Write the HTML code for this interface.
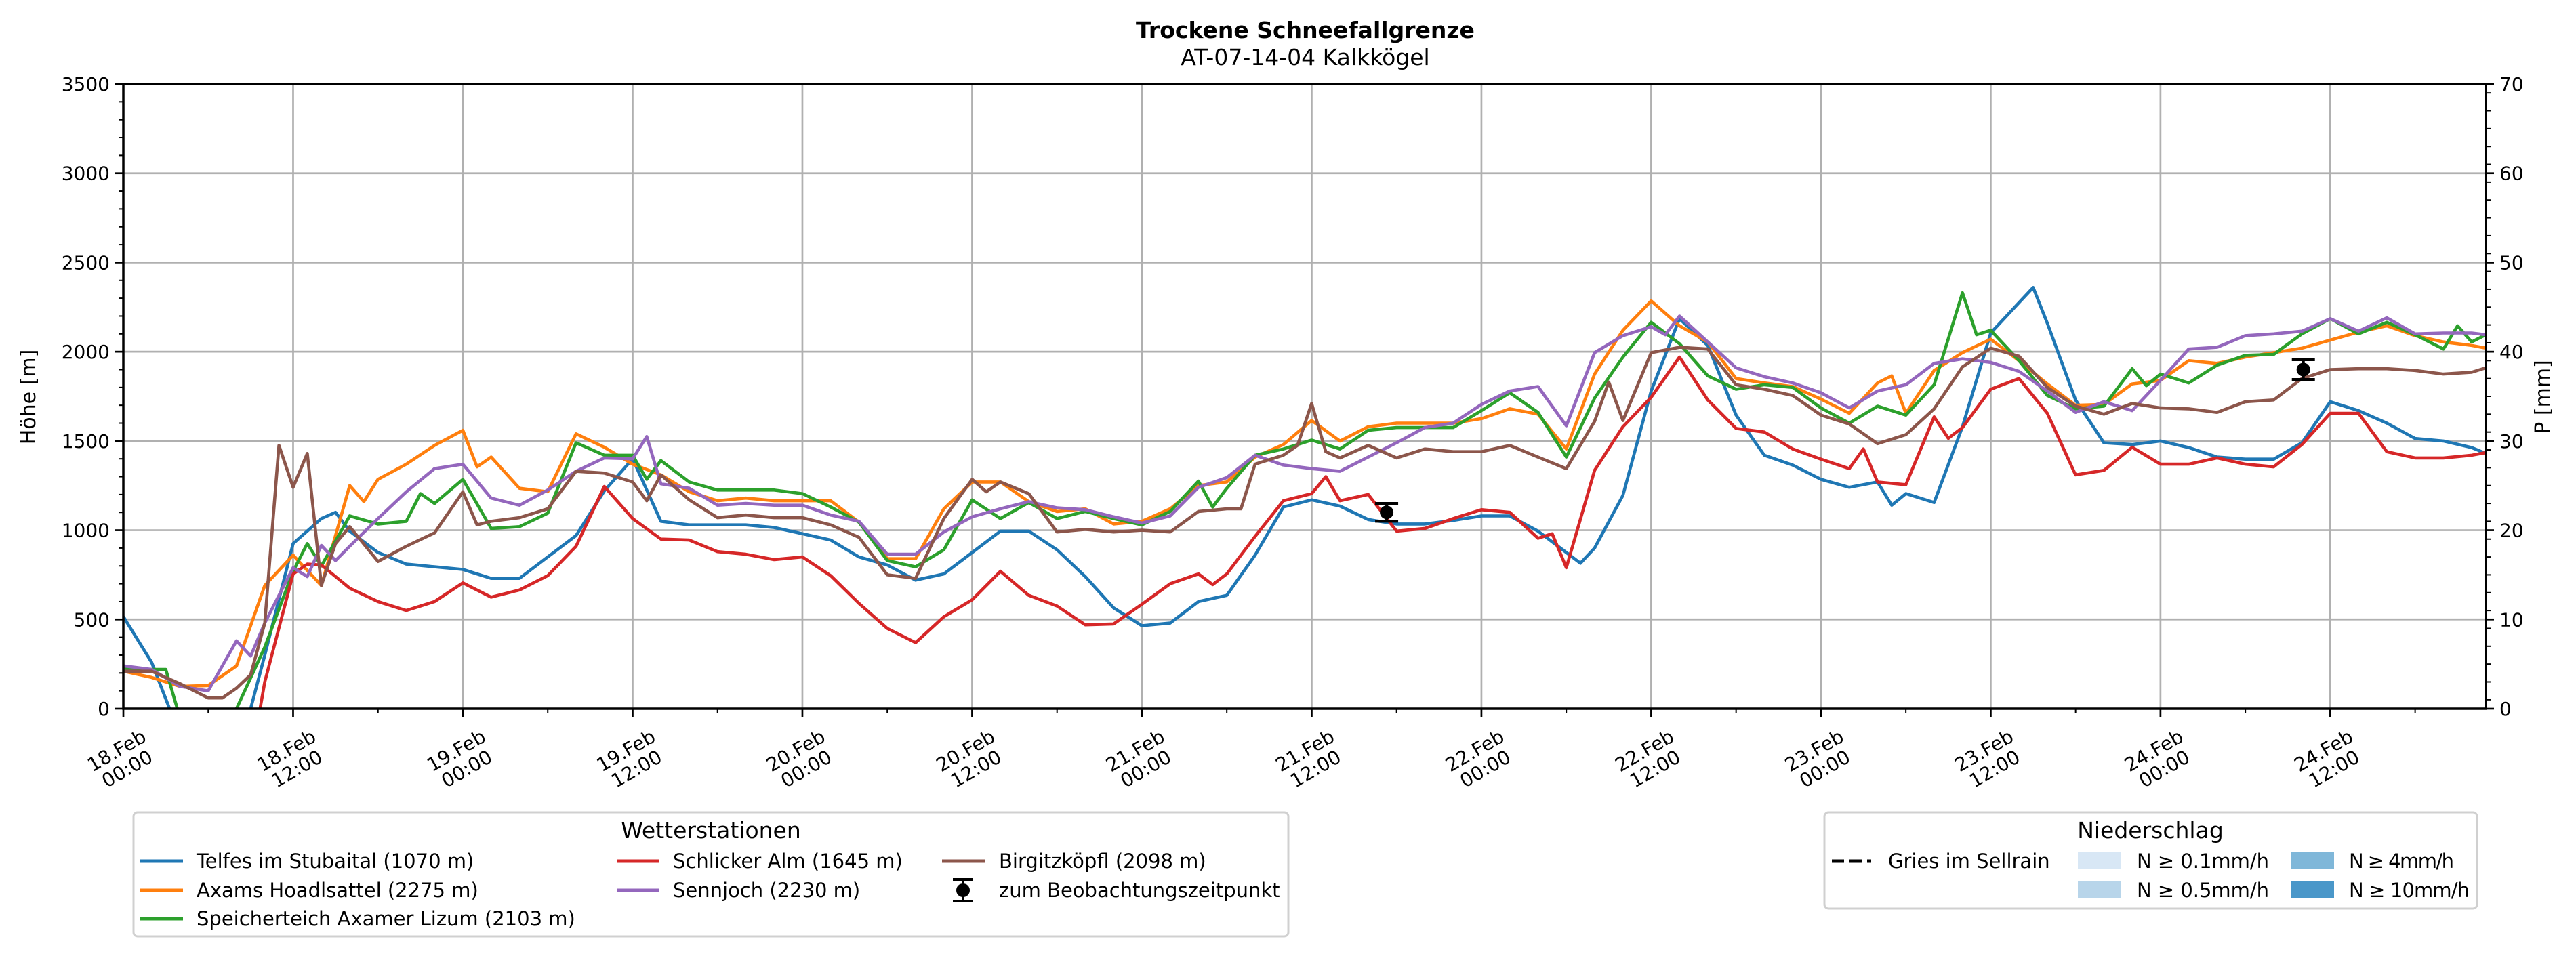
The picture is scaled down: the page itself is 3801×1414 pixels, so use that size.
<!DOCTYPE html>
<html><head><meta charset="utf-8"><style>
html,body{margin:0;padding:0;background:#fff}
svg{display:block;font-family:"DejaVu Sans","Liberation Sans",sans-serif}
</style></head><body>
<svg id="chart" width="3801" height="1414" viewBox="0 0 3801 1414" xmlns="http://www.w3.org/2000/svg">
<defs><clipPath id="plotclip"><rect x="182" y="124" width="3486" height="922"/></clipPath></defs>
<rect x="0" y="0" width="3801" height="1414" fill="#fff"/>
<text x="1926" y="56" text-anchor="middle" font-size="33" font-weight="bold">Trockene Schneefallgrenze</text>
<text x="1926" y="96" text-anchor="middle" font-size="33">AT-07-14-04 Kalkkögel</text>
<g id="grid"></g>
<g id="series" clip-path="url(#plotclip)"></g>
<g id="axes"></g>
<text transform="translate(52,586) rotate(-90)" text-anchor="middle" font-size="30">Höhe [m]</text>
<text transform="translate(3762,586) rotate(-90)" text-anchor="middle" font-size="30">P [mm]</text>

<g>
<rect x="197" y="1199" width="1704" height="183" rx="6" fill="#fff" stroke="#d0d0d0" stroke-width="3"/>
<text x="1049" y="1237" text-anchor="middle" font-size="33">Wetterstationen</text>
<g font-size="29">
<g><line x1="207" y1="1271" x2="270" y2="1271" stroke="#1f77b4" stroke-width="5"/><text x="290" y="1281">Telfes im Stubaital (1070 m)</text></g>
<g><line x1="207" y1="1314" x2="270" y2="1314" stroke="#ff7f0e" stroke-width="5"/><text x="290" y="1324">Axams Hoadlsattel (2275 m)</text></g>
<g><line x1="207" y1="1356" x2="270" y2="1356" stroke="#2ca02c" stroke-width="5"/><text x="290" y="1366">Speicherteich Axamer Lizum (2103 m)</text></g>
<g><line x1="910" y1="1271" x2="972" y2="1271" stroke="#d62728" stroke-width="5"/><text x="993" y="1281">Schlicker Alm (1645 m)</text></g>
<g><line x1="910" y1="1314" x2="972" y2="1314" stroke="#9467bd" stroke-width="5"/><text x="993" y="1324">Sennjoch (2230 m)</text></g>
<g><line x1="1390" y1="1271" x2="1453" y2="1271" stroke="#8c564b" stroke-width="5"/><text x="1474" y="1281">Birgitzköpfl (2098 m)</text></g>
<g><line x1="1421" y1="1298" x2="1421" y2="1330" stroke="#000" stroke-width="4"/><line x1="1406" y1="1298" x2="1436" y2="1298" stroke="#000" stroke-width="4"/><line x1="1406" y1="1330" x2="1436" y2="1330" stroke="#000" stroke-width="4"/><circle cx="1421" cy="1314" r="10" fill="#000"/><text x="1474" y="1324">zum Beobachtungszeitpunkt</text></g>
</g>
</g>

<g>
<rect x="2692" y="1199" width="963" height="142" rx="6" fill="#fff" stroke="#d0d0d0" stroke-width="3"/>
<text x="3173" y="1237" text-anchor="middle" font-size="33">Niederschlag</text>
<g font-size="29">
<g><line x1="2703" y1="1271" x2="2761" y2="1271" stroke="#000" stroke-width="5" stroke-dasharray="18,8"/><text x="2786" y="1281">Gries im Sellrain</text></g>
<g><rect x="3066" y="1258" width="63" height="24" fill="#d8e7f5"/><text x="3153" y="1281" textLength="195">N ≥ 0.1mm/h</text></g>
<g><rect x="3066" y="1301" width="63" height="24" fill="#b8d5ea"/><text x="3153" y="1324" textLength="195">N ≥ 0.5mm/h</text></g>
<g><rect x="3381" y="1258" width="63" height="24" fill="#7fb7d9"/><text x="3466" y="1281" textLength="155">N ≥ 4mm/h</text></g>
<g><rect x="3381" y="1301" width="63" height="24" fill="#4a97c9"/><text x="3466" y="1324" textLength="178">N ≥ 10mm/h</text></g>
</g>
</g>
</svg>
<script>
const tickHours = [0,12,24,36,48,60,72,84,96,108,120,132,144,156];
const tickDates = ["18.Feb","18.Feb","19.Feb","19.Feb","20.Feb","20.Feb","21.Feb","21.Feb","22.Feb","22.Feb","23.Feb","23.Feb","24.Feb","24.Feb"];
const tickTimes = ["00:00","12:00","00:00","12:00","00:00","12:00","00:00","12:00","00:00","12:00","00:00","12:00","00:00","12:00"];
const yTicks = [0,500,1000,1500,2000,2500,3000,3500];
const y2Ticks = [0,10,20,30,40,50,60,70];
const telfes = [[0,516],[2,260],[4,-150],[6,-500],[8,-300],[10,300],[12,925],[14,1065],[15,1100],[16,995],[18,875],[20,810],[22,795],[24,780],[26,730],[28,730],[30,850],[32,970],[34,1220],[36,1400],[38,1050],[40,1030],[42,1030],[44,1030],[46,1015],[48,980],[50,945],[52,850],[54,805],[56,720],[58,755],[60,875],[62,995],[64,995],[66,890],[68,740],[70,565],[72,465],[74,480],[76,600],[78,635],[80,860],[82,1130],[84,1170],[86,1135],[88,1060],[90,1035],[92,1035],[94,1055],[96,1080],[98,1080],[100,995],[102,875],[103,815],[104,900],[106,1195],[108,1780],[110,2185],[112,2035],[114,1645],[116,1420],[118,1365],[120,1285],[122,1240],[124,1270],[125,1140],[126,1205],[128,1155],[130,1580],[132,2105],[134,2275],[135,2360],[136,2160],[138,1730],[140,1490],[142,1480],[144,1500],[146,1463],[148,1410],[150,1398],[152,1398],[154,1490],[156,1720],[158,1670],[160,1600],[162,1514],[164,1500],[166,1463],[167,1430]];
const axams = [[0,210],[2,175],[4,125],[6,130],[8,240],[10,690],[12,860],[14,690],[16,1250],[17,1160],[18,1285],[20,1370],[22,1475],[24,1560],[25,1355],[26,1410],[28,1235],[30,1215],[32,1540],[34,1465],[36,1370],[38,1310],[40,1215],[42,1165],[44,1180],[46,1165],[48,1165],[50,1165],[52,1045],[54,840],[56,840],[58,1120],[60,1270],[62,1270],[64,1160],[66,1105],[68,1120],[70,1035],[72,1050],[74,1120],[76,1250],[78,1270],[80,1410],[82,1480],[84,1615],[86,1500],[88,1580],[90,1600],[92,1600],[94,1600],[96,1625],[98,1680],[100,1650],[102,1455],[104,1875],[106,2120],[108,2285],[110,2145],[112,2055],[114,1850],[116,1825],[118,1805],[120,1735],[122,1655],[124,1825],[125,1865],[126,1655],[128,1895],[130,1995],[132,2070],[134,1950],[136,1820],[138,1700],[140,1705],[142,1820],[144,1840],[146,1950],[148,1935],[150,1970],[152,1995],[154,2020],[156,2065],[158,2110],[160,2145],[162,2090],[164,2055],[166,2035],[167,2020]];
const lizum = [[0,225],[2,220],[3,220],[4,-50],[6,-300],[8,0],[10,345],[12,770],[13,925],[14,800],[16,1080],[18,1035],[20,1050],[21,1205],[22,1150],[24,1285],[26,1010],[28,1020],[30,1095],[32,1490],[34,1420],[36,1420],[37,1285],[38,1390],[40,1270],[42,1225],[44,1225],[46,1225],[48,1205],[50,1130],[52,1045],[54,830],[56,795],[58,890],[60,1170],[62,1065],[64,1155],[66,1065],[68,1105],[70,1065],[72,1030],[74,1105],[76,1275],[77,1130],[78,1235],[80,1420],[82,1455],[84,1505],[86,1455],[88,1560],[90,1575],[92,1575],[94,1575],[96,1670],[98,1770],[100,1660],[102,1410],[104,1740],[106,1970],[108,2165],[110,2045],[112,1865],[114,1790],[116,1815],[118,1800],[120,1685],[122,1600],[124,1695],[126,1645],[128,1815],[130,2330],[131,2095],[132,2120],[134,1950],[136,1755],[138,1680],[140,1695],[142,1905],[143,1810],[144,1875],[146,1825],[148,1925],[150,1980],[152,1985],[154,2100],[156,2185],[158,2100],[160,2165],[162,2095],[164,2015],[165,2145],[166,2055],[167,2095]];
const schlicker = [[0,-500],[8,-500],[9,-300],[10,150],[12,755],[13,810],[14,805],[16,675],[18,600],[20,550],[22,600],[24,705],[26,625],[28,665],[30,745],[32,910],[34,1245],[36,1065],[38,950],[40,945],[42,880],[44,865],[46,835],[48,850],[50,745],[52,590],[54,450],[56,370],[58,515],[60,610],[62,770],[64,635],[66,575],[68,470],[70,475],[72,585],[74,700],[76,755],[77,695],[78,755],[80,965],[82,1165],[84,1205],[85,1300],[86,1165],[88,1200],[90,995],[92,1010],[94,1065],[96,1115],[98,1100],[100,955],[101,980],[102,790],[104,1335],[106,1580],[108,1745],[110,1970],[112,1730],[114,1570],[116,1550],[118,1455],[120,1398],[122,1345],[123,1455],[124,1270],[126,1255],[128,1635],[129,1515],[130,1575],[132,1790],[134,1850],[136,1655],[138,1310],[140,1335],[142,1465],[144,1370],[146,1370],[148,1405],[150,1370],[152,1355],[154,1480],[156,1655],[158,1655],[160,1440],[162,1405],[164,1405],[166,1420],[167,1435]];
const sennjoch = [[0,240],[2,220],[4,125],[6,100],[8,380],[9,295],[10,480],[12,790],[13,740],[14,915],[15,830],[16,910],[18,1065],[20,1215],[22,1345],[24,1370],[26,1180],[28,1140],[30,1225],[32,1330],[34,1405],[36,1400],[37,1525],[38,1260],[40,1235],[42,1140],[44,1150],[46,1140],[48,1140],[50,1085],[52,1050],[54,865],[56,865],[58,990],[60,1075],[62,1120],[64,1160],[66,1125],[68,1115],[70,1075],[72,1040],[74,1080],[76,1240],[78,1295],[80,1420],[82,1365],[84,1345],[86,1330],[88,1410],[90,1490],[92,1575],[94,1600],[96,1705],[98,1780],[100,1805],[102,1585],[104,1995],[106,2090],[108,2140],[109,2095],[110,2200],[112,2055],[114,1910],[116,1860],[118,1825],[120,1770],[122,1685],[124,1780],[126,1815],[128,1935],[130,1960],[132,1940],[134,1890],[136,1780],[138,1660],[140,1720],[142,1670],[144,1840],[146,2015],[148,2025],[150,2090],[152,2100],[154,2115],[156,2185],[158,2115],[160,2190],[162,2100],[164,2105],[166,2105],[167,2095]];
const birgitz = [[0,210],[2,210],[4,140],[6,60],[7,60],[8,115],[9,190],[10,480],[11,1475],[12,1240],[13,1430],[14,690],[15,925],[16,1020],[18,825],[20,910],[22,985],[24,1215],[25,1030],[26,1050],[28,1070],[30,1120],[32,1330],[34,1320],[36,1270],[37,1165],[38,1310],[40,1170],[42,1070],[44,1085],[46,1070],[48,1070],[50,1030],[52,960],[54,750],[56,730],[58,1065],[60,1285],[61,1215],[62,1270],[64,1205],[66,990],[68,1005],[70,990],[72,1000],[74,990],[76,1105],[78,1120],[79,1120],[80,1370],[82,1420],[83,1475],[84,1710],[85,1440],[86,1405],[88,1475],[90,1405],[92,1455],[94,1440],[96,1440],[98,1475],[100,1410],[102,1345],[104,1610],[105,1830],[106,1615],[108,1995],[110,2025],[112,2015],[114,1815],[116,1790],[118,1755],[120,1645],[122,1595],[124,1485],[126,1535],[128,1680],[130,1915],[132,2020],[134,1975],[136,1800],[138,1695],[140,1650],[142,1710],[144,1685],[146,1680],[148,1660],[150,1720],[152,1730],[154,1850],[156,1900],[158,1905],[160,1905],[162,1895],[164,1875],[166,1885],[167,1910]];
const obsHours = [89.3, 154.1];
const obsValues = [1100, 1900];
const obsErr = [50, 55];

const NS="http://www.w3.org/2000/svg";
const X0=182, X1=3668, Y0=1046, Y1=124, HMAX=167, VMAX=3500;
function xs(h){return X0+(X1-X0)*h/HMAX;}
function ys(v){return Y0-(Y0-Y1)*v/VMAX;}
function mk(tag,attrs,parent){const e=document.createElementNS(NS,tag);for(const k in attrs)e.setAttribute(k,attrs[k]);parent.appendChild(e);return e;}
const grid=document.getElementById('grid'), axes=document.getElementById('axes'), ser=document.getElementById('series');

tickHours.forEach((h,i)=>{
  const x=xs(h);
  const gl=mk('line',{x1:x,y1:Y1,x2:x,y2:Y0,stroke:'#b0b0b0','stroke-width':2.7},grid);
  
  
  mk('line',{x1:x,y1:Y0,x2:x,y2:Y0+12,stroke:'#000','stroke-width':2.7},axes);
  const t=mk('text',{x:x,y:1115,'text-anchor':'middle','font-size':28,transform:`rotate(-30 ${x} 1125)`},axes);
  
  
  const s1=mk('tspan',{x:x,dy:0},t); s1.textContent=tickDates[i];
  const s2=mk('tspan',{x:x,dy:31},t); s2.textContent=tickTimes[i];
  const mx=xs(h+6);
  if(h+6<HMAX) mk('line',{x1:mx,y1:Y0,x2:mx,y2:Y0+7,stroke:'#000','stroke-width':2},axes);
});
yTicks.forEach((v,i)=>{
  const y=ys(v);
  const gl=mk('line',{x1:X0,y1:y,x2:X1,y2:y,stroke:'#b0b0b0','stroke-width':2.7},grid);
  
  
  mk('line',{x1:X0-12,y1:y,x2:X0,y2:y,stroke:'#000','stroke-width':2.7},axes);
  mk('line',{x1:X1,y1:y,x2:X1+12,y2:y,stroke:'#000','stroke-width':2.7},axes);
  const t=mk('text',{x:X0-20,y:y+10,'text-anchor':'end','font-size':28},axes);
  
  
  t.textContent=v;
  const t2=mk('text',{x:X1+20,y:y+10,'text-anchor':'start','font-size':28},axes);
  
  
  t2.textContent=y2Ticks[i];
});
for(let v=100;v<VMAX;v+=100){ if(v%500===0)continue; const y=ys(v);
  mk('line',{x1:X0-7,y1:y,x2:X0,y2:y,stroke:'#000','stroke-width':2},axes);}
for(let v=50;v<VMAX;v+=100){ if(v%500===0)continue; const y=ys(v);
  mk('line',{x1:X1,y1:y,x2:X1+7,y2:y,stroke:'#000','stroke-width':2},axes);}
const frame=mk('rect',{x:X0,y:Y1,width:X1-X0,height:Y0-Y1,fill:'none',stroke:'#000','stroke-width':3.5},axes);



const seriesList=[[telfes,'#1f77b4','line-telfes'],[axams,'#ff7f0e','line-axams'],[lizum,'#2ca02c','line-speicherteich'],[schlicker,'#d62728','line-schlicker'],[sennjoch,'#9467bd','line-sennjoch'],[birgitz,'#8c564b','line-birgitzkoepfl']];
seriesList.forEach(s=>{
  const d=s[0].map((p,i)=>(i?'L':'M')+xs(p[0]).toFixed(1)+','+ys(p[1]).toFixed(1)).join(' ');
  const p=mk('path',{d:d,fill:'none',stroke:s[1],'stroke-width':4.6,'stroke-linejoin':'round'},ser);
  
  
});
obsHours.forEach((h,i)=>{
  const x=xs(h), y=ys(obsValues[i]), yt=ys(obsValues[i]+obsErr[i]), yb=ys(obsValues[i]-obsErr[i]);
  const g=mk('g',{},ser);
  
  
  mk('line',{x1:x,y1:yt,x2:x,y2:yb,stroke:'#000','stroke-width':4},g);
  mk('line',{x1:x-17,y1:yt,x2:x+17,y2:yt,stroke:'#000','stroke-width':4},g);
  mk('line',{x1:x-17,y1:yb,x2:x+17,y2:yb,stroke:'#000','stroke-width':4},g);
  mk('circle',{cx:x,cy:y,r:10,fill:'#000'},g);
});
</script>
</body></html>
